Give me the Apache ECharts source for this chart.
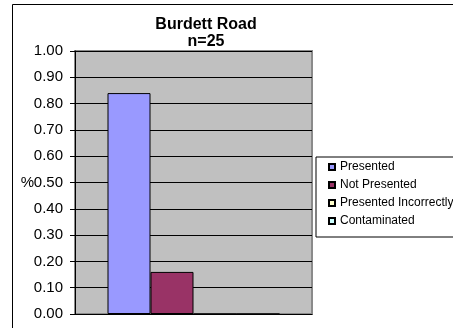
<!DOCTYPE html>
<html>
<head>
<meta charset="utf-8">
<script src="https://cdn.jsdelivr.net/npm/echarts@6/dist/echarts.min.js"></script>
<style>
  html, body { margin: 0; padding: 0; background: #ffffff; }
  #chart { width: 453px; height: 328px; }
</style>
</head>
<body>
<div id="chart"></div>
<script>
// Burdett Road results (n=25), share of samples per outcome
const categories = [''];
const seriesNames = ['Presented', 'Not Presented', 'Presented Incorrectly', 'Contaminated'];
const presented = [0.84];
const notPresented = [0.16];
const presentedIncorrectly = [0];
const contaminated = [0];
const seriesColors = ['#9999FF', '#993366', '#FFFFCC', '#CCFFFF'];
const titleLines = ['Burdett Road', 'n=25'];

const FONT = '"Liberation Sans", Arial, sans-serif';
const values = [presented, notPresented, presentedIncorrectly, contaminated];

const chart = echarts.init(document.getElementById('chart'), null, { renderer: 'canvas' });

chart.setOption({
  backgroundColor: '#ffffff',
  animation: false,
  graphic: [{
    type: 'rect',
    shape: { x: 12.5, y: 4.5, width: 460, height: 340 },
    style: { fill: 'none', stroke: '#000000', lineWidth: 1 },
    silent: true,
    z: -1
  }],
  title: {
    text: titleLines.join('\n'),
    left: 201,
    top: 11,
    textAlign: 'center',
    textStyle: {
      fontFamily: FONT,
      fontSize: 16,
      fontWeight: 'bold',
      color: '#000000',
      lineHeight: 17
    }
  },
  legend: {
    orient: 'vertical',
    left: 316,
    top: 157,
    data: seriesNames,
    icon: 'rect',
    itemWidth: 6,
    itemHeight: 6,
    itemGap: 4,
    padding: [3, 20, 9, 12],
    borderColor: '#000000',
    borderWidth: 1,
    backgroundColor: '#ffffff',
    textStyle: {
      fontFamily: FONT,
      fontSize: 12,
      color: '#000000',
      lineHeight: 14
    }
  },
  grid: {
    left: 75,
    right: 141,
    top: 51,
    bottom: 14,
    show: true,
    backgroundColor: '#C0C0C0',
    borderColor: '#8a8a8a',
    borderWidth: 2
  },
  xAxis: {
    type: 'category',
    data: categories,
    axisLine: { show: true, lineStyle: { color: '#000000', width: 1 } },
    axisTick: { show: false },
    axisLabel: { show: false },
    splitLine: { show: false }
  },
  yAxis: {
    type: 'value',
    min: 0,
    max: 1,
    interval: 0.1,
    name: '%',
    nameLocation: 'middle',
    nameRotate: 0,
    nameGap: 41,
    nameMoveOverlap: false,
    nameTextStyle: {
      fontFamily: FONT,
      fontSize: 15,
      color: '#000000',
      align: 'right',
      verticalAlign: 'middle'
    },
    axisLine: { show: true, lineStyle: { color: '#000000', width: 1 } },
    axisTick: { show: true, inside: false, length: 5, lineStyle: { color: '#000000' } },
    axisLabel: {
      margin: 12,
      fontFamily: FONT,
      fontSize: 15,
      color: '#000000',
      formatter: v => v.toFixed(2)
    },
    splitLine: { show: true, lineStyle: { color: '#000000', width: 1 } }
  },
  series: seriesNames.map((name, i) => ({
    name: name,
    type: 'bar',
    data: values[i],
    barWidth: 43,
    barGap: '0%',
    itemStyle: {
      color: seriesColors[i],
      borderColor: '#000000',
      borderWidth: 1
    }
  }))
});
</script>
</body>
</html>
